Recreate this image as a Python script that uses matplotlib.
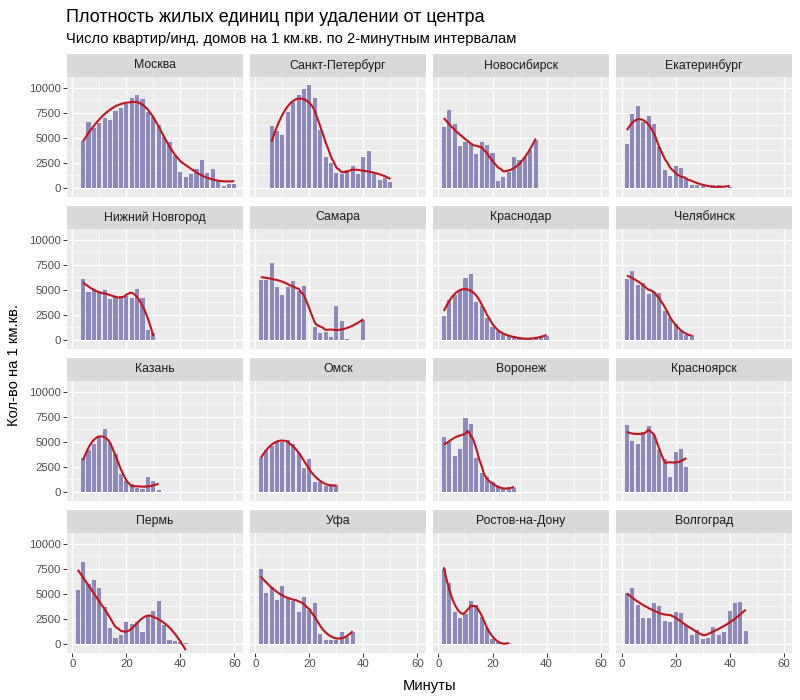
import numpy as np
import matplotlib
matplotlib.use("Agg")
import matplotlib.pyplot as plt
from matplotlib.ticker import MultipleLocator

plt.rcParams['font.family'] = ['Liberation Sans', 'DejaVu Sans']

# ---------------- data (minutes start, 2-minute steps; None = no data) ----------------
cities = ["Москва", "Санкт-Петербург", "Новосибирск", "Екатеринбург",
          "Нижний Новгород", "Самара", "Краснодар", "Челябинск",
          "Казань", "Омск", "Воронеж", "Красноярск",
          "Пермь", "Уфа", "Ростов-на-Дону", "Волгоград"]

start_minute = [4, 6, 2, 2,
                4, 2, 2, 2,
                4, 2, 2, 2,
                2, 2, 2, 2]

moscow = [4630, 6570, 5970, 6470, 7000, 6730, 7670, 7970, 8330, 9000, 9300, 8900,
          7570, 7070, 6230, 5070, 4600, 3130, 1570, 1070, 1330, 1900, 2730, 1500,
          1830, 630, 130, 400, 400]
spb = [6170, 5630, 5230, 7570, 8570, 9300, 9830, 10230, 8970, 5800, 3070, 2470,
       1500, 1330, 1730, 2170, 1400, 3070, 3630, 1400, 730, 970, 570]
novosibirsk = [6070, 7730, 6330, 4130, 4570, 4470, 3330, 4570, 4230, 3470, 670,
               1070, 1530, 3070, 2730, 3070, 3800, 4730]
ekaterinburg = [4330, 7400, 8170, 6570, 7130, 6330, 4070, 1730, 1130, 2130, 1970,
                900, 270, 300, 150, None, 250, 250, None, 50]
nnovgorod = [6070, 4730, 4930, 4830, 5000, 4070, 4270, 4330, 4400, 4130, 5070,
             4170, 1000, 670]
samara = [6000, 6000, 7670, 5270, 4500, 5270, 5900, 4830, 5400, None, 1230, 670,
          770, 270, 3330, 1900, 100, None, None, 2000]
krasnodar = [2400, 4000, 4500, 4930, 6170, 6600, 3730, 3400, 2170, 1270, 900, 600,
             500, 330, 270, 170, 170, 170, 270, 400]
chelyabinsk = [6070, 6830, 5500, 5670, 4600, 4730, 4700, 2830, 2170, 1600, 900,
               500, 430]
kazan = [3400, 4170, 4730, 5500, 6270, 4830, 3730, 1730, 1070, 730, 400, 270,
         1500, 1070, 170]
omsk = [3400, 4170, 4600, 4930, 4930, 5170, 4800, 3830, 2330, 3270, 1000, 930,
        600, 730, 670]
voronezh = [5500, 4930, 3600, 4270, 7400, 6770, 3330, 1900, 1500, 930, 570, 400,
            500, 330]
krasnoyarsk = [6670, 5070, 4770, 5930, 6600, 5670, 4170, 3270, 1500, 4000, 4270,
               2470]
perm = [5400, 8170, 5930, 6400, 5600, 3670, 1600, 570, 900, 2170, 1930, 2170,
        1170, 2830, 3270, 4270, 1830, 330, 270, 120, 60]
ufa = [7500, 5070, 5670, 4400, 5770, 4670, 4270, 3170, 4670, 3330, 4070, 1000,
       330, 330, 330, 1170, 700, 1170]
rostov = [7500, 6070, 3170, 2600, 3000, 4270, 3830, 2670, 1600, 430, 170, 80, 80]
volgograd = [5070, 5600, 3870, 2570, 2570, 4070, 3770, 2270, 2170, 3130, 3070,
             1830, 900, 1400, 470, 600, 1670, 900, 1170, 3270, 4070, 4170, 1270]

series = [moscow, spb, novosibirsk, ekaterinburg,
          nnovgorod, samara, krasnodar, chelyabinsk,
          kazan, omsk, voronezh, krasnoyarsk,
          perm, ufa, rostov, volgograd]

x_ticks = [0, 20, 40, 60]
y_ticks = [0, 2500, 5000, 7500, 10000]
y_ticklabels = ["0", "2500", "5000", "7500", "10000"]

title = "Плотность жилых единиц при удалении от центра"
subtitle = "Число квартир/инд. домов на 1 км.кв. по 2-минутным интервалам"
xlabel = "Минуты"
ylabel = "Кол-во на 1 км.кв."

# ---------------- styling ----------------
BAR = "#8D89BB"
LINE = "#C0141E"
PANEL_BG = "#EBEBEB"
STRIP_BG = "#D9D9D9"
SPAN = 0.75


def loess(x, y, span, xs):
    x = np.asarray(x, float)
    y = np.asarray(y, float)
    n = len(x)
    q = max(int(np.floor(n * span)), 4)
    q = min(q, n)
    out = []
    for x0 in xs:
        d = np.abs(x - x0)
        h = np.sort(d)[q - 1] * 1.0001
        w = np.clip(1 - (d / h) ** 3, 0, None) ** 3
        X = np.vstack([np.ones(n), x - x0, (x - x0) ** 2]).T
        sw = np.sqrt(w)
        beta, *_ = np.linalg.lstsq(X * sw[:, None], y * sw, rcond=None)
        out.append(beta[0])
    return np.array(out)


W, H = 800, 700
fig = plt.figure(figsize=(W / 100, H / 100), dpi=100)
fig.patch.set_facecolor("white")

col_left = [66.7 + 183.1 * j for j in range(4)]
panel_w = 176
strip_h = 23.5
panel_h = 120
row_strip_top = [53.5 + 152 * i for i in range(4)]

for idx, (name, st, vals) in enumerate(zip(cities, start_minute, series)):
    i, j = divmod(idx, 4)
    left = col_left[j]
    s_top = row_strip_top[i]
    p_top = s_top + strip_h
    p_bot = p_top + panel_h
    ax = fig.add_axes([left / W, 1 - p_bot / H, panel_w / W, panel_h / H])
    ax.set_facecolor(PANEL_BG)
    for sp in ax.spines.values():
        sp.set_visible(False)
    xs_all = st + 2 * np.arange(len(vals))
    mask = np.array([v is not None for v in vals])
    xv = xs_all[mask]
    yv = np.array([v for v in vals if v is not None], float)
    ax.bar(xv, yv, width=1.5, color=BAR, zorder=2)
    grid_x = np.linspace(xv.min(), xv.max(), 80)
    ax.plot(grid_x, loess(xv, yv, SPAN, grid_x), color=LINE, lw=1.5, zorder=3,
            solid_capstyle="butt")
    ax.set_xlim(-2.07, 63.1)
    ax.set_ylim(-940, 11060)
    ax.set_xticks(x_ticks)
    ax.set_yticks(y_ticks)
    ax.xaxis.set_minor_locator(MultipleLocator(10))
    ax.yaxis.set_minor_locator(MultipleLocator(1250))
    ax.set_axisbelow(True)
    ax.grid(which="major", color="white", lw=1.0)
    ax.grid(which="minor", color="white", lw=0.5)
    ax.tick_params(which="minor", length=0)
    ax.tick_params(which="major", length=2.9, width=0.7, color="#333333",
                   labelsize=8.2, labelcolor="#4D4D4D", pad=1.5)
    if j == 0:
        ax.set_yticklabels(y_ticklabels)
    else:
        ax.tick_params(axis="y", which="both", left=False, labelleft=False)
    if i == 3:
        ax.set_xticklabels([str(t) for t in x_ticks])
    else:
        ax.tick_params(axis="x", which="both", bottom=False, labelbottom=False)

    sax = fig.add_axes([left / W, 1 - p_top / H, panel_w / W, strip_h / H])
    sax.set_facecolor(STRIP_BG)
    sax.set_xticks([])
    sax.set_yticks([])
    for sp in sax.spines.values():
        sp.set_visible(False)
    sax.text(0.5, 0.5, name, ha="center", va="center", fontsize=8.8,
             color="#1A1A1A", transform=sax.transAxes)

fig.text(66 / W, 1 - 22 / H, title, fontsize=13.0, color="black",
         ha="left", va="baseline")
fig.text(66 / W, 1 - 43 / H, subtitle, fontsize=10.6, color="black",
         ha="left", va="baseline")
fig.text((col_left[0] + col_left[3] + panel_w) / 2 / W, 1 - 686 / H, xlabel,
         fontsize=10.6, ha="center", va="center", color="black")
fig.text(14 / W, 1 - 365 / H, ylabel, fontsize=10.6, rotation=90,
         ha="center", va="center", color="black")

fig.savefig("out.png", dpi=100, facecolor="white")
